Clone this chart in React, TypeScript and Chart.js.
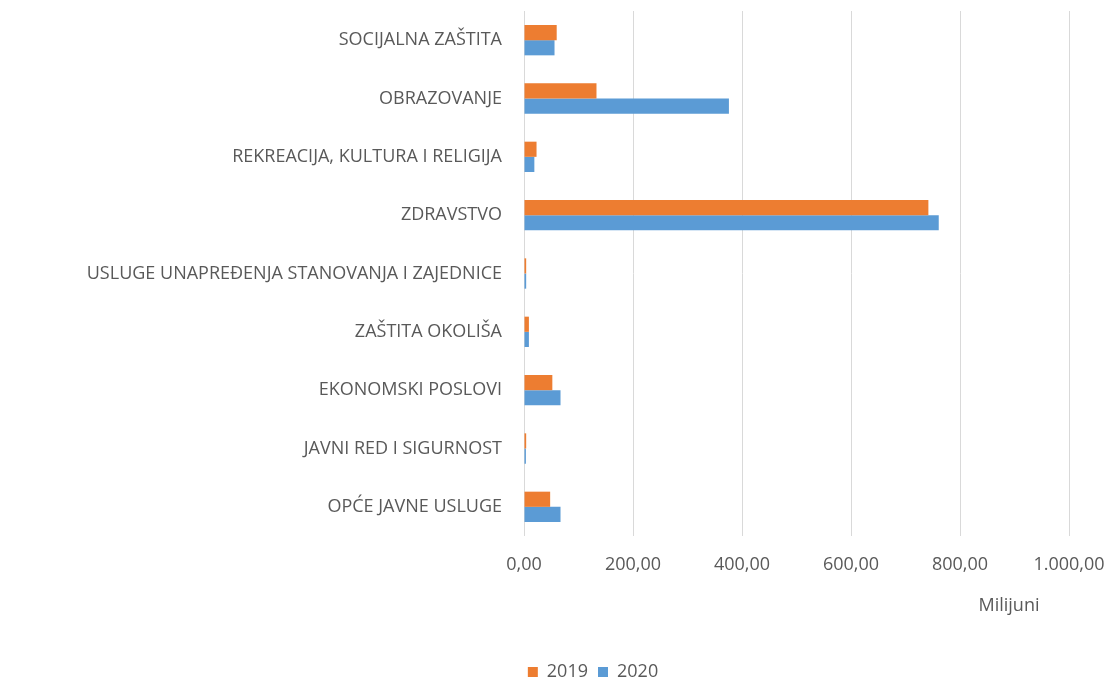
import React, { useEffect, useRef } from "react";
import { Chart, registerables } from "chart.js";

Chart.register(...registerables);

const categories = [
  "SOCIJALNA ZAŠTITA",
  "OBRAZOVANJE",
  "REKREACIJA, KULTURA I RELIGIJA",
  "ZDRAVSTVO",
  "USLUGE UNAPREĐENJA STANOVANJA I ZAJEDNICE",
  "ZAŠTITA OKOLIŠA",
  "EKONOMSKI POSLOVI",
  "JAVNI RED I SIGURNOST",
  "OPĆE JAVNE USLUGE",
];

const values2019 = [60, 133, 23, 742, 4, 9, 52, 4, 48];
const values2020 = [56, 376, 19, 761, 4, 9, 67, 3.5, 67];

const seriesLabels = ["2019", "2020"];
const xMin = 0;
const xMax = 1000;
const xStep = 200;
const axisTitle = "Milijuni";

const TEXT = "#595959";
const FONT = "'Open Sans', sans-serif";
const FS = 18;

function fmt(v: number): string {
  const fixed = Math.abs(v).toFixed(2);
  const [intPart, dec] = fixed.split(".");
  const withDots = intPart.replace(/\B(?=(\d{3})+(?!\d))/g, ".");
  return (v < 0 ? "-" : "") + withDots + "," + dec;
}

const titlePlugin = {
  id: "axisTitleRight",
  afterDraw(chart: any) {
    const { ctx, chartArea } = chart;
    ctx.save();
    ctx.fillStyle = TEXT;
    ctx.font = `${FS}px ${FONT}`;
    ctx.textAlign = "center";
    ctx.textBaseline = "middle";
    ctx.fillText(axisTitle, chartArea.right - 60, 606);
    ctx.restore();
  },
};

export default function App() {
  const ref = useRef<HTMLCanvasElement | null>(null);

  useEffect(() => {
    if (!ref.current) return;
    const chart = new Chart(ref.current, {
      type: "bar",
      data: {
        labels: categories,
        datasets: [
          {
            label: seriesLabels[0],
            data: values2019,
            backgroundColor: "#ED7D31",
            barPercentage: 1,
            categoryPercentage: 0.52,
          },
          {
            label: seriesLabels[1],
            data: values2020,
            backgroundColor: "#5B9BD5",
            barPercentage: 1,
            categoryPercentage: 0.52,
          },
        ],
      },
      options: {
        indexAxis: "y",
        animation: false,
        responsive: false,
        maintainAspectRatio: false,
        layout: { padding: { left: 72, right: 0, top: 11, bottom: -11 } },
        plugins: {
          legend: {
            position: "bottom",
            labels: {
              color: TEXT,
              font: { family: FONT, size: FS },
              boxWidth: 10,
              boxHeight: 10,
              padding: 10,
            },
          },
          tooltip: { enabled: false },
        },
        scales: {
          x: {
            min: xMin,
            max: xMax,
            ticks: {
              stepSize: xStep,
              color: TEXT,
              font: { family: FONT, size: FS },
              padding: 18,
              maxRotation: 0,
              callback: (v: any) => fmt(Number(v)),
            },
            grid: { color: "#d9d9d9", drawTicks: false, lineWidth: 1 },
            border: { display: false },
            afterFit: (scale: any) => {
              scale.paddingLeft = 0;
              scale.paddingRight = 45;
              scale.height = 117;
            },
          },
          y: {
            ticks: {
              color: TEXT,
              font: { family: FONT, size: FS },
              padding: 22,
            },
            grid: { display: false, drawTicks: false },
            border: { display: false },
            afterFit: (scale: any) => {
              scale.width = 452;
              scale.paddingTop = 0;
              scale.paddingBottom = 0;
            },
          },
        },
      },
      plugins: [titlePlugin],
    });
    return () => chart.destroy();
  }, []);

  return (
    <div style={{ position: "fixed", left: 0, top: 0, width: 1114, height: 680, background: "#fff" }}>
      <canvas ref={ref} width={1114} height={680} />
    </div>
  );
}
